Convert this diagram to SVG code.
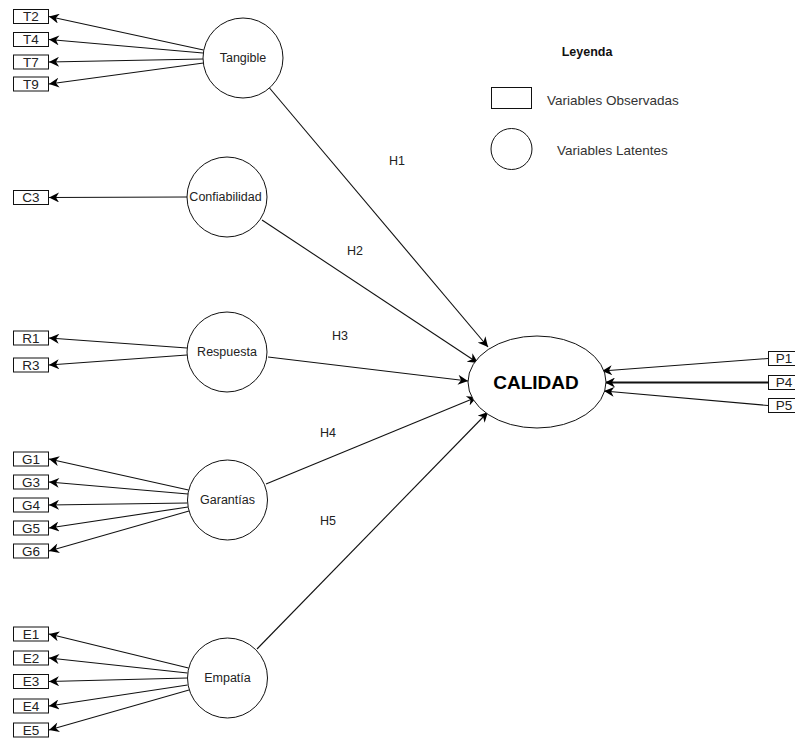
<svg xmlns="http://www.w3.org/2000/svg" width="795" height="740" viewBox="0 0 795 740">
<style>
.obs{fill:#fff;stroke:#111;stroke-width:1}
.lat{fill:#fff;stroke:#111;stroke-width:1}
.lbl{font-family:"Liberation Sans",Arial,sans-serif;font-size:13.5px;fill:#222;text-anchor:middle;dominant-baseline:central}
.nl{font-family:"Liberation Sans",Arial,sans-serif;font-size:12.5px;fill:#222;text-anchor:middle;dominant-baseline:central}
.cn{fill:none;stroke:#111;stroke-width:1.1;marker-end:url(#arr)}
</style>
<defs>
<marker id="arr" viewBox="0 0 10 10" refX="10" refY="5" markerWidth="11" markerHeight="10" orient="auto" markerUnits="userSpaceOnUse">
<path d="M0,0 L10,5 L0,10 L3,5 z" fill="#000"/>
</marker>
</defs>
<rect width="795" height="740" fill="#fff"/>
<g id="connectors">
<line class="cn" x1="203.5" y1="50" x2="49" y2="16.5"/>
<line class="cn" x1="203" y1="53" x2="49" y2="39.5"/>
<line class="cn" x1="203" y1="59" x2="49" y2="62"/>
<line class="cn" x1="203.5" y1="63" x2="49" y2="84"/>
<line class="cn" x1="187" y1="197" x2="49" y2="197.5"/>
<line class="cn" x1="187" y1="348" x2="49" y2="338"/>
<line class="cn" x1="187" y1="355" x2="49" y2="365"/>
<line class="cn" x1="188.5" y1="490" x2="49" y2="459"/>
<line class="cn" x1="188" y1="494" x2="49" y2="482"/>
<line class="cn" x1="187.5" y1="503" x2="49" y2="505"/>
<line class="cn" x1="188" y1="507" x2="49" y2="528"/>
<line class="cn" x1="189" y1="511" x2="49" y2="551"/>
<line class="cn" x1="188.5" y1="668" x2="49" y2="634"/>
<line class="cn" x1="187.5" y1="673" x2="49" y2="658"/>
<line class="cn" x1="187.5" y1="678" x2="49" y2="681.5"/>
<line class="cn" x1="187.5" y1="685" x2="49" y2="706"/>
<line class="cn" x1="189" y1="690" x2="49" y2="730"/>
<line class="cn" x1="269.5" y1="88" x2="488" y2="347"/>
<line class="cn" x1="262" y1="220" x2="478" y2="363"/>
<line class="cn" x1="268" y1="357" x2="468" y2="381"/>
<line class="cn" x1="266" y1="484" x2="477" y2="397"/>
<line class="cn" x1="257" y1="649" x2="488" y2="412"/>
<line class="cn" x1="768" y1="358.5" x2="602" y2="371"/>
<line class="cn" x1="768" y1="382.5" x2="605" y2="382.5" style="stroke-width:1.8"/>
<line class="cn" x1="768" y1="405.5" x2="604" y2="391"/>
<text class="nl" x="397" y="161">H1</text>
<text class="nl" x="355" y="251">H2</text>
<text class="nl" x="340" y="336">H3</text>
<text class="nl" x="328" y="433">H4</text>
<text class="nl" x="328" y="521">H5</text>
</g>
<g id="T2"><rect class="obs" x="13.5" y="9.5" width="35" height="14"/><text class="lbl" x="31" y="16.5">T2</text></g>
<g id="T4"><rect class="obs" x="13.5" y="32.5" width="35" height="14"/><text class="lbl" x="31" y="39.5">T4</text></g>
<g id="T7"><rect class="obs" x="13.5" y="55" width="35" height="14"/><text class="lbl" x="31" y="62">T7</text></g>
<g id="T9"><rect class="obs" x="13.5" y="77" width="35" height="14"/><text class="lbl" x="31" y="84">T9</text></g>
<g id="C3"><rect class="obs" x="13.5" y="190.5" width="35" height="14"/><text class="lbl" x="31" y="197.5">C3</text></g>
<g id="R1"><rect class="obs" x="13.5" y="331" width="35" height="14"/><text class="lbl" x="31" y="338">R1</text></g>
<g id="R3"><rect class="obs" x="13.5" y="358" width="35" height="14"/><text class="lbl" x="31" y="365">R3</text></g>
<g id="G1"><rect class="obs" x="13.5" y="452" width="35" height="14"/><text class="lbl" x="31" y="459">G1</text></g>
<g id="G3"><rect class="obs" x="13.5" y="475" width="35" height="14"/><text class="lbl" x="31" y="482">G3</text></g>
<g id="G4"><rect class="obs" x="13.5" y="498" width="35" height="14"/><text class="lbl" x="31" y="505">G4</text></g>
<g id="G5"><rect class="obs" x="13.5" y="521" width="35" height="14"/><text class="lbl" x="31" y="528">G5</text></g>
<g id="G6"><rect class="obs" x="13.5" y="544" width="35" height="14"/><text class="lbl" x="31" y="551">G6</text></g>
<g id="E1"><rect class="obs" x="13.5" y="627" width="35" height="14"/><text class="lbl" x="31" y="634">E1</text></g>
<g id="E2"><rect class="obs" x="13.5" y="651" width="35" height="14"/><text class="lbl" x="31" y="658">E2</text></g>
<g id="E3"><rect class="obs" x="13.5" y="674.5" width="35" height="14"/><text class="lbl" x="31" y="681.5">E3</text></g>
<g id="E4"><rect class="obs" x="13.5" y="699" width="35" height="14"/><text class="lbl" x="31" y="706">E4</text></g>
<g id="E5"><rect class="obs" x="13.5" y="723" width="35" height="14"/><text class="lbl" x="31" y="730">E5</text></g>
<g id="P1"><rect class="obs" x="768.5" y="351.5" width="35" height="14"/><text class="lbl" x="784" y="358.5">P1</text></g>
<g id="P4"><rect class="obs" x="768.5" y="375.5" width="35" height="14"/><text class="lbl" x="784" y="382.5">P4</text></g>
<g id="P5"><rect class="obs" x="768.5" y="398.5" width="35" height="14"/><text class="lbl" x="784" y="405.5">P5</text></g>
<g id="Tangible"><circle class="lat" cx="243" cy="58" r="40"/><text class="nl" x="243" y="58">Tangible</text></g>
<g id="Confiabilidad"><circle class="lat" cx="227" cy="197" r="40"/><text class="nl" x="225.5" y="197">Confiabilidad</text></g>
<g id="Respuesta"><circle class="lat" cx="227" cy="352" r="40"/><text class="nl" x="227" y="352">Respuesta</text></g>
<g id="Garantias"><circle class="lat" cx="227.5" cy="500" r="40"/><text class="nl" x="227.5" y="500">Garantías</text></g>
<g id="Empatia"><circle class="lat" cx="227.5" cy="678" r="40"/><text class="nl" x="227.5" y="678">Empatía</text></g>
<g id="CALIDAD"><ellipse class="lat" cx="537" cy="382" rx="69" ry="46"/><text x="536" y="382" style="font-family:'Liberation Sans',Arial,sans-serif;font-size:19px;font-weight:bold;fill:#000;text-anchor:middle;dominant-baseline:central">CALIDAD</text></g>
<g id="legend">
<text x="587" y="52" style="font-family:'Liberation Sans',Arial,sans-serif;font-size:12.5px;font-weight:bold;fill:#111;text-anchor:middle;dominant-baseline:central">Leyenda</text>
<rect class="obs" x="491.5" y="87.5" width="40" height="21"/>
<text x="547" y="100" style="font-family:'Liberation Sans',Arial,sans-serif;font-size:13.5px;fill:#333;dominant-baseline:central">Variables Observadas</text>
<circle class="lat" cx="511.5" cy="149" r="20.5"/>
<text x="557" y="150.5" style="font-family:'Liberation Sans',Arial,sans-serif;font-size:13.5px;fill:#333;dominant-baseline:central">Variables Latentes</text>
</g>
</svg>
